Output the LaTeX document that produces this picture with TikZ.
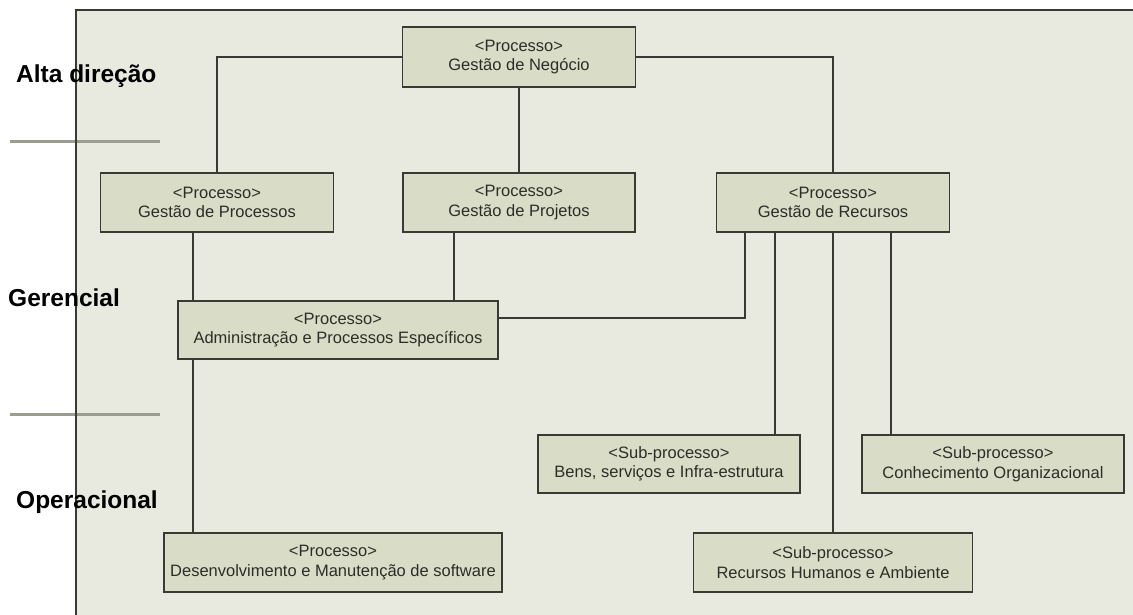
\documentclass[tikz,border=0pt]{standalone}
\usepackage{fontspec}
\setmainfont{Liberation Sans}
\definecolor{panelbg}{RGB}{233,234,223}
\definecolor{boxfill}{RGB}{217,221,199}
\definecolor{edge}{RGB}{58,58,52}
\definecolor{boxtext}{RGB}{45,45,40}
\definecolor{sepline}{RGB}{155,157,145}
\tikzset{
  pbox/.style={draw=edge, line width=1.8pt, fill=boxfill, text=boxtext,
    rectangle, align=center, inner sep=0pt,
    font=\fontsize{16.5}{19.5}\selectfont},
  link/.style={draw=edge, line width=1.6pt},
  levellabel/.style={anchor=west, inner sep=0pt, text=black,
    font=\fontsize{24.5}{29}\selectfont\bfseries},
  separator/.style={draw=sepline, line width=3pt}
}
\begin{document}
\begin{tikzpicture}[x=1pt, y=-1pt]
  \useasboundingbox (0,0) rectangle (1133,615);
  \fill[white] (0,0) rectangle (1133,615);
  % drawing area
  \fill[panelbg] (76,10) rectangle (1133,615);

  % level separators
  \draw[separator] (10,142) -- (160,142);
  \draw[separator] (10,414) -- (160,414);
  \draw[edge, line width=1.6pt] (76,615) -- (76,10) -- (1133,10);

  % process boxes
  \node[pbox, minimum width=233pt, minimum height=60pt] (gn)  at (519,57)
    {<Processo>\\Gestão de Negócio};
  \node[pbox, minimum width=233pt, minimum height=59pt] (gp)  at (217,202.5)
    {<Processo>\\Gestão de Processos};
  \node[pbox, minimum width=232pt, minimum height=59pt] (gpj) at (519,202.5)
    {<Processo>\\Gestão de Projetos};
  \node[pbox, minimum width=233pt, minimum height=59pt] (gr)  at (833,202.5)
    {<Processo>\\Gestão de Recursos};
  \node[pbox, minimum width=320pt, minimum height=58pt] (adm) at (338,330)
    {<Processo>\\Administração e Processos Específicos};
  \node[pbox, minimum width=262pt, minimum height=58pt] (bens) at (669,464)
    {<Sub-processo>\\Bens, serviços e Infra-estrutura};
  \node[pbox, minimum width=262pt, minimum height=58pt] (con) at (993,464)
    {<Sub-processo>\\Conhecimento Organizacional};
  \node[pbox, minimum width=279pt, minimum height=59pt] (rh)  at (833,562.5)
    {<Sub-processo>\\Recursos Humanos e Ambiente};
  \node[pbox, minimum width=338pt, minimum height=59pt] (dev) at (333,562.5)
    {<Processo>\\Desenvolvimento e Manutenção de software};

  % guide positions for the vertical runs
  \coordinate (xa) at (193,0);
  \coordinate (xb) at (454,0);
  \coordinate (xc) at (745,318);
  \coordinate (xd) at (775,0);
  \coordinate (xe) at (891,0);

  % connectors
  \draw[link] (gn.west) -| (gp.north);
  \draw[link] (gn.east) -| (gr.north);
  \draw[link] (gn.south) -- (gpj.north);
  \draw[link] (gp.south -| xa) -- (adm.north -| xa);
  \draw[link] (adm.south -| xa) -- (dev.north -| xa);
  \draw[link] (gpj.south -| xb) -- (adm.north -| xb);
  \draw[link] (adm.east |- xc) -- (xc) -- (gr.south -| xc);
  \draw[link] (gr.south -| xd) -- (bens.north -| xd);
  \draw[link] (gr.south) -- (rh.north);
  \draw[link] (gr.south -| xe) -- (con.north -| xe);

  % level labels
  \node[levellabel] (l1) at (16,76)  {Alta direção};
  \node[levellabel] (l2) at (8,298)  {Gerencial};
  \node[levellabel] (l3) at (16,502) {Operacional};
\end{tikzpicture}
\end{document}
